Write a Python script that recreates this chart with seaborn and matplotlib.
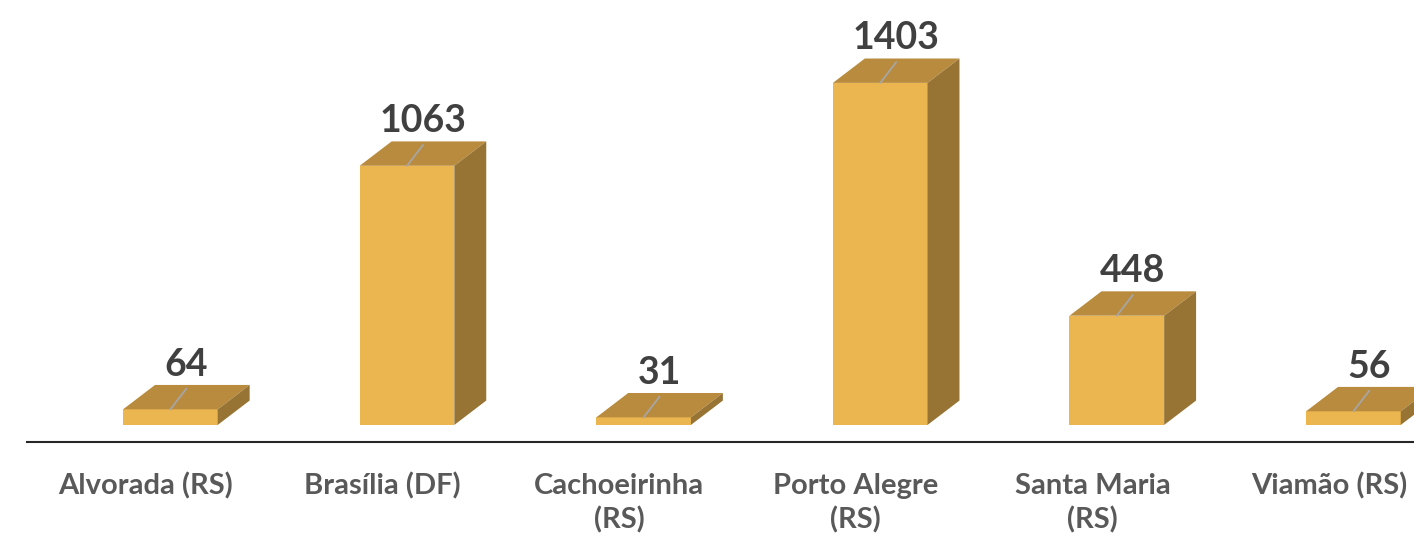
import matplotlib
matplotlib.use("Agg")
import matplotlib.pyplot as plt
from matplotlib.patches import Polygon
import seaborn as sns
import pandas as pd

categories = ["Alvorada (RS)", "Brasília (DF)", "Cachoeirinha\n(RS)",
              "Porto Alegre\n(RS)", "Santa Maria\n(RS)", "Viamão (RS)"]
values = [64, 1063, 31, 1403, 448, 56]

FRONT = "#EBB550"
TOP = "#B98B3E"
SIDE = "#977434"

sns.set_theme(style="white")
plt.rcParams['font.family'] = ['Lato', 'DejaVu Sans']

fig = plt.figure(figsize=(14.14, 5.39), dpi=100)
ax = fig.add_axes([27 / 1414, 97 / 539, 1387 / 1414, 442 / 539])

df = pd.DataFrame({"cat": categories, "val": values})
sns.barplot(data=df, x="cat", y="val", color=FRONT, saturation=1, width=0.4, ax=ax)

shift = 0.103
dx = 0.135
dy = 100
for p, v in zip(ax.patches, values):
    p.set_x(p.get_x() + shift)
    p.set_linewidth(0)
    x0 = p.get_x()
    x1 = x0 + p.get_width()
    h = p.get_height()
    top = Polygon([(x0, h), (x1, h), (x1 + dx, h + dy), (x0 + dx, h + dy)],
                  closed=True, facecolor=TOP, edgecolor="none", zorder=3)
    side = Polygon([(x1, 0), (x1 + dx, dy), (x1 + dx, h + dy), (x1, h)],
                   closed=True, facecolor=SIDE, edgecolor="none", zorder=3)
    ax.add_patch(top)
    ax.add_patch(side)
    cx = (x0 + x1) / 2
    ax.plot([cx, cx + dx * 0.5], [h, h + dy * 0.85], color="#A6A6A6", lw=1.3, zorder=4)
    ax.text(cx + dx / 2, h + dy + 38, f"{v}", ha="center", va="baseline",
            fontsize=27, fontweight="bold", color="#404040", zorder=5)

ax.set_xlim(-0.503, 5.359)
ax.set_ylim(-70, 1743)
ax.set_xlabel("")
ax.set_ylabel("")
ax.set_yticks([])
ax.set_xticks(range(len(categories)))
ax.set_xticklabels(categories, fontsize=21, fontweight="bold", color="#595959",
                   linespacing=1.37)
ax.tick_params(axis="x", length=0, pad=22)
for s in ["top", "right", "left"]:
    ax.spines[s].set_visible(False)
ax.spines["bottom"].set_color("#262626")
ax.spines["bottom"].set_linewidth(1.5)

fig.savefig("out.png", dpi=100)
